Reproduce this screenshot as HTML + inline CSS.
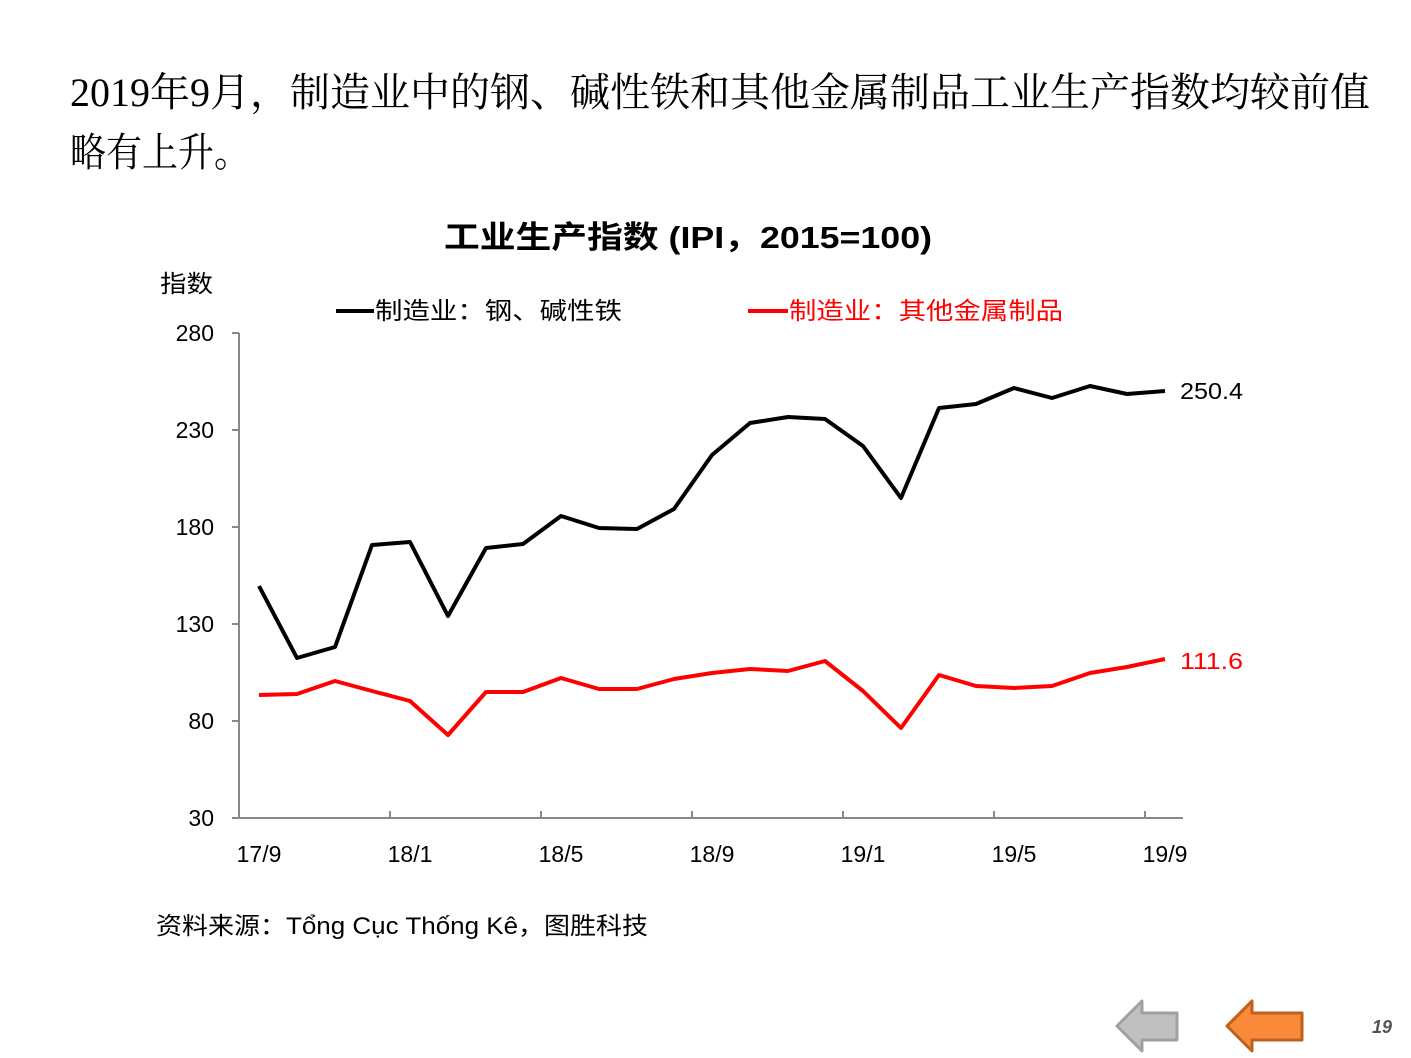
<!DOCTYPE html>
<html><head><meta charset="utf-8"><style>
html,body{margin:0;padding:0;background:#fff;}
svg{display:block;}
</style></head><body>
<svg width="1411" height="1058" viewBox="0 0 1411 1058" xmlns="http://www.w3.org/2000/svg">
<g font-family="'Liberation Serif','Noto Serif CJK SC',serif" font-size="40" fill="#000">
<text x="70" y="106" textLength="1300" lengthAdjust="spacingAndGlyphs">2019年9月，制造业中的钢、碱性铁和其他金属制品工业生产指数均较前值</text>
<text x="70" y="166" textLength="180" lengthAdjust="spacingAndGlyphs">略有上升。</text>
</g>
<text x="444" y="248" textLength="488" lengthAdjust="spacingAndGlyphs" font-family="'Liberation Sans','Noto Sans CJK SC',sans-serif" font-size="31" font-weight="bold">工业生产指数 (IPI，2015=100)</text>
<g font-family="'Liberation Sans','Noto Sans CJK SC',sans-serif" font-size="24">
<text x="160" y="292" textLength="53" lengthAdjust="spacingAndGlyphs">指数</text>
<line x1="336" y1="311" x2="374" y2="311" stroke="#000" stroke-width="4"/>
<text x="375" y="319" textLength="247" lengthAdjust="spacingAndGlyphs">制造业：钢、碱性铁</text>
<line x1="748" y1="311" x2="788" y2="311" stroke="#f00" stroke-width="4"/>
<text x="789" y="319" fill="#f00" textLength="274" lengthAdjust="spacingAndGlyphs">制造业：其他金属制品</text>
</g>
<g stroke="#888" stroke-width="2" fill="none">
<line x1="239" y1="333" x2="239" y2="818"/>
<line x1="232" y1="818" x2="1183" y2="818"/>
<line x1="232" y1="333" x2="239" y2="333"/>
<line x1="232" y1="430" x2="239" y2="430"/>
<line x1="232" y1="527" x2="239" y2="527"/>
<line x1="232" y1="624" x2="239" y2="624"/>
<line x1="232" y1="721" x2="239" y2="721"/>
<line x1="390" y1="811" x2="390" y2="818"/>
<line x1="541" y1="811" x2="541" y2="818"/>
<line x1="692" y1="811" x2="692" y2="818"/>
<line x1="843" y1="811" x2="843" y2="818"/>
<line x1="994" y1="811" x2="994" y2="818"/>
<line x1="1145" y1="811" x2="1145" y2="818"/>
</g>
<g font-family="'Liberation Sans','DejaVu Sans',sans-serif" font-size="23" fill="#000" text-anchor="end">
<text x="214" y="341">280</text>
<text x="214" y="438">230</text>
<text x="214" y="535">180</text>
<text x="214" y="632">130</text>
<text x="214" y="729">80</text>
<text x="214" y="826">30</text>
</g>
<g font-family="'Liberation Sans','DejaVu Sans',sans-serif" font-size="23" fill="#000" text-anchor="middle">
<text x="259" y="862">17/9</text>
<text x="410" y="862">18/1</text>
<text x="561" y="862">18/5</text>
<text x="712" y="862">18/9</text>
<text x="863" y="862">19/1</text>
<text x="1014" y="862">19/5</text>
<text x="1165" y="862">19/9</text>
</g>
<polyline fill="none" stroke="#000" stroke-width="4" stroke-linejoin="round" points="259,586 297,658 335,647 372,545 410,542 448,616 486,548 523,544 561,516 599,528 637,529 674,509 712,455 750,423 788,417 825,419 863,446 901,498 939,408 976,404 1014,388 1052,398 1090,386 1127,394 1165,391"/>
<polyline fill="none" stroke="#f00" stroke-width="4" stroke-linejoin="round" points="259,695 297,694 335,681 372,691 410,701 448,735 486,692 523,692 561,678 599,689 637,689 674,679 712,673 750,669 788,671 825,661 863,691 901,728 939,675 976,686 1014,688 1052,686 1090,673 1127,667 1165,659"/>
<g font-family="'Liberation Sans','DejaVu Sans',sans-serif" font-size="23">
<text x="1180" y="399" textLength="63" lengthAdjust="spacingAndGlyphs">250.4</text>
<text x="1180" y="669" fill="#f00" textLength="63" lengthAdjust="spacingAndGlyphs">111.6</text>
</g>
<text x="156" y="934" textLength="492" lengthAdjust="spacingAndGlyphs" font-family="'Liberation Sans','Noto Sans CJK SC',sans-serif" font-size="24">资料来源：Tổng Cục Thống Kê，图胜科技</text>
<polygon points="1117,1026 1142,1001 1142,1013 1177,1013 1177,1040 1142,1040 1142,1051" fill="#c0c0c0" stroke="#a0a0a0" stroke-width="3" stroke-linejoin="round"/>
<polygon points="1227,1026 1252,1001 1252,1013 1302,1013 1302,1040 1252,1040 1252,1051" fill="#f88a3a" stroke="#c0601e" stroke-width="3" stroke-linejoin="round"/>
<text x="1392" y="1033" text-anchor="end" font-family="'Liberation Sans',sans-serif" font-size="18" font-weight="bold" font-style="italic" fill="#555">19</text>
</svg>
</body></html>
